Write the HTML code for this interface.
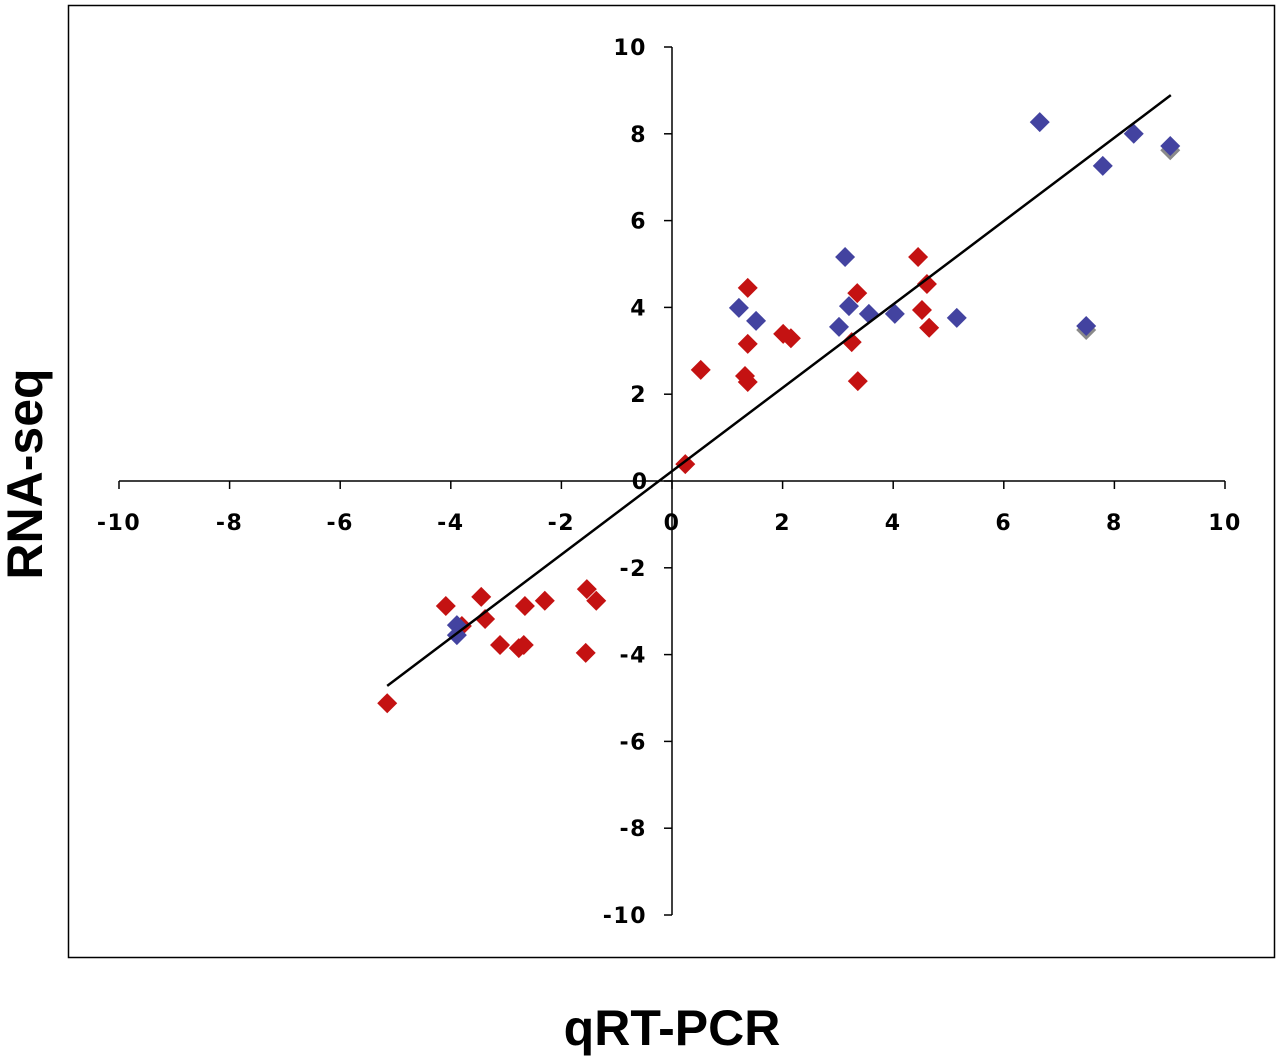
<!DOCTYPE html>
<html><head><meta charset="utf-8"><style>
html,body{margin:0;padding:0;background:#fff}
svg text{font-family:"DejaVu Sans","Liberation Sans",sans-serif;font-weight:bold}
</style></head><body>
<svg id="chart" width="1280" height="1059" xmlns="http://www.w3.org/2000/svg">
<rect x="68.5" y="5.5" width="1206" height="952" fill="none" stroke="#000" stroke-width="1.5"/>
<text x="42" y="474" font-size="50" text-anchor="middle" transform="rotate(-90 42 474)" style="font-family:'Liberation Sans',sans-serif">RNA-seq</text>
<text x="672" y="1045" font-size="50" text-anchor="middle" style="font-family:'Liberation Sans',sans-serif">qRT-PCR</text>
<g id="axes"></g><g id="marks"></g>
</svg>
<script>
const xTicks=[-10,-8,-6,-4,-2,0,2,4,6,8,10];
const yTicks=[-10,-8,-6,-4,-2,0,2,4,6,8,10];
const redX=[-5.15,-4.09,-3.80,-3.45,-3.38,-3.11,-2.77,-2.68,-2.66,-2.30,-1.54,-1.37,-1.56,0.24,0.52,1.37,1.37,1.32,1.37,2.01,2.15,3.35,3.25,3.36,4.45,4.61,4.52,4.65];
const redY=[-5.12,-2.88,-3.34,-2.67,-3.18,-3.78,-3.85,-3.78,-2.88,-2.76,-2.49,-2.76,-3.96,0.39,2.56,4.45,3.16,2.42,2.28,3.39,3.29,4.33,3.20,2.30,5.16,4.54,3.94,3.53];
const greyX=[9.01,7.49];
const greyY=[7.62,3.48];
const blueX=[-3.89,-3.89,1.21,1.52,3.13,3.20,3.02,3.56,4.03,5.15,6.65,7.79,8.35,9.01,7.49];
const blueY=[-3.32,-3.55,3.99,3.69,5.16,4.03,3.55,3.85,3.85,3.76,8.27,7.26,8.00,7.72,3.57];
const trendX=[-5.15,9.02];
const trendY=[-4.72,8.89];
const sx=v=>672+v*55.3, sy=v=>481-v*43.4;
const NS="http://www.w3.org/2000/svg";
const axes=document.getElementById('axes'), marks=document.getElementById('marks');
function mk(t,a,p){const e=document.createElementNS(NS,t);for(const k in a)e.setAttribute(k,a[k]);p.appendChild(e);return e;}
const xa=mk('line',{x1:sx(-10),x2:sx(10),y1:sy(0),y2:sy(0),stroke:'#000','stroke-width':1.5},axes);


const ya=mk('line',{x1:sx(0),x2:sx(0),y1:sy(10),y2:sy(-10),stroke:'#000','stroke-width':1.5},axes);


xTicks.forEach(v=>{
 const l=mk('line',{x1:sx(v),x2:sx(v),y1:sy(0),y2:sy(0)+8,stroke:'#000','stroke-width':1.5},axes);
 
 
 const t=mk('text',{x:sx(v),y:530,'font-size':22,'letter-spacing':1.5,'text-anchor':'middle'},axes);t.textContent=v;
 
 
});
yTicks.forEach(v=>{
 const l=mk('line',{x1:sx(0)-8,x2:sx(0),y1:sy(v),y2:sy(v),stroke:'#000','stroke-width':1.5},axes);
 
 
 if(v===0)return;
 const t=mk('text',{x:647,y:sy(v)+8,'font-size':22,'letter-spacing':1.5,'text-anchor':'end'},axes);t.textContent=v;
 
 
});
const z=mk('text',{x:647,y:sy(0)+8,'font-size':22,'text-anchor':'end'},axes);z.textContent='0';


function dia(x,y,fill,name){
 const cx=sx(x),cy=sy(y),r=10;
 const p=mk('polygon',{points:`${cx},${cy-r} ${cx+r},${cy} ${cx},${cy+r} ${cx-r},${cy}`,fill:fill},marks);
 
 
}
greyX.forEach((x,i)=>dia(x,greyY[i],'#8a8a8a','grey-point'));
redX.forEach((x,i)=>dia(x,redY[i],'#c41212','red-point'));
blueX.forEach((x,i)=>dia(x,blueY[i],'#4343a0','blue-point'));
const tl=mk('line',{x1:sx(trendX[0]),y1:sy(trendY[0]),x2:sx(trendX[1]),y2:sy(trendY[1]),stroke:'#000','stroke-width':2.5},marks);


</script>
</body></html>
